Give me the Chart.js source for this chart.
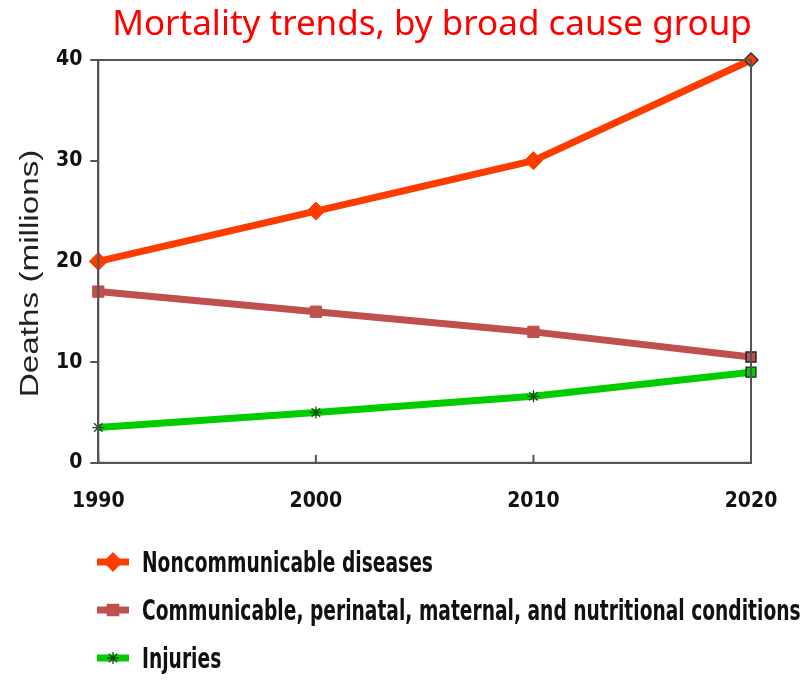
<!DOCTYPE html>
<html>
<head>
<meta charset="utf-8">
<script src="https://cdn.jsdelivr.net/npm/chart.js@4.4.0/dist/chart.umd.min.js"></script>
<style>
  html, body { margin: 0; padding: 0; background: #fff; }
  #wrap { position: relative; width: 810px; height: 681px; }
  #title { position: absolute; left: 0; width: 864px; top: 0; text-align: center; font-family: "Noto Sans", sans-serif; font-size: 35px; color: #ff0000; line-height: 44px; }
  #legend { position: absolute; left: 95px; top: 538px; font-family: "DejaVu Sans Condensed", "DejaVu Sans", sans-serif; font-weight: bold; font-size: 29px; color: #111; }
  .item { display: flex; align-items: center; height: 48px; white-space: nowrap; }
  .item canvas { margin-right: 11px; }
  .item span { display: inline-block; transform: scaleX(0.715); transform-origin: left center; }
</style>
</head>
<body>
<div id="wrap">
  <canvas id="myChart" width="810" height="681"></canvas>
  <div id="title">Mortality trends, by broad cause group</div>
  <div id="legend"></div>
</div>
<script>
// datos
const years = ["1990", "2000", "2010", "2020"];
const noncommunicable = [20, 25, 30, 40];
const communicable = [17, 15, 13, 10.5];
const injuries = [3.5, 5, 6.6, 9];
const yTicks = [0, 10, 20, 30, 40];
const yTitle = "Deaths (millions)";

const tickFont = { family: "'DejaVu Sans Condensed', 'DejaVu Sans', sans-serif", weight: "bold", size: 21 };

// marco alrededor del area + titulo del eje y estirado
const boxPlugin = {
    id: "box",
    afterDraw(chart) {
        const a = chart.chartArea;
        const c = chart.ctx;
        c.save();
        c.strokeStyle = "#555";
        c.lineWidth = 2;
        c.strokeRect(a.left, a.top, a.right - a.left, a.bottom - a.top);
        // marcas hacia adentro en el eje x
        const x = chart.scales.x;
        years.forEach((y, i) => {
            const px = x.getPixelForValue(i);
            c.beginPath();
            c.moveTo(px, a.bottom);
            c.lineTo(px, a.bottom - 8);
            c.stroke();
        });
        c.restore();

        c.save();
        c.translate(31, (a.top + a.bottom) / 2 + 12);
        c.rotate(-Math.PI / 2);
        c.scale(1.33, 1);
        c.font = "25px 'Liberation Sans', Arial, sans-serif";
        c.fillStyle = "#222";
        c.textAlign = "center";
        c.textBaseline = "middle";
        c.fillText(yTitle, 0, 0);
        c.restore();
    }
};

const last = (n, a, b) => Array.from({ length: n }, (_, i) => i === n - 1 ? b : a);

const ctx = document.getElementById("myChart").getContext("2d");
const chart = new Chart(ctx, {
    type: "line",
    data: {
        labels: years,
        datasets: [{
            label: "Noncommunicable diseases",
            data: noncommunicable,
            borderColor: "#ff3c00",
            backgroundColor: "#ff3c00",
            borderWidth: 7,
            pointStyle: "rectRot",
            pointRadius: last(4, 9, 7),
            pointBackgroundColor: "#ff3c00",
            pointBorderColor: last(4, "#ff3c00", "#333"),
            pointBorderWidth: last(4, 1, 1.5),
            clip: false
        }, {
            label: "Communicable, perinatal, maternal, and nutritional conditions",
            data: communicable,
            borderColor: "#c0504d",
            backgroundColor: "#c0504d",
            borderWidth: 7,
            pointStyle: "rect",
            pointRadius: last(4, 8, 7),
            pointBackgroundColor: "#c0504d",
            pointBorderColor: last(4, "#c0504d", "#222"),
            pointBorderWidth: last(4, 1, 1.5),
            clip: false
        }, {
            label: "Injuries",
            data: injuries,
            borderColor: "#00cc00",
            backgroundColor: "#00cc00",
            borderWidth: 7,
            pointStyle: last(4, "star", "rect"),
            pointRadius: last(4, 6, 7),
            pointBackgroundColor: "#00cc00",
            pointBorderColor: last(4, "#1a4a1a", "#222"),
            pointBorderWidth: 1.3,
            clip: false
        }]
    },
    options: {
        responsive: false,
        animation: false,
        layout: { padding: { left: 48, right: 59, top: 60, bottom: 141 } },
        plugins: {
            legend: { display: false },
            tooltip: { enabled: false },
            title: { display: false }
        },
        scales: {
            x: {
                offset: false,
                grid: { display: false, drawTicks: false },
                border: { display: true, color: "#555", width: 2 },
                ticks: { color: "#111", font: tickFont, padding: 26, maxRotation: 0 }
            },
            y: {
                min: 0,
                max: 40,
                afterBuildTicks: (s) => { s.ticks = yTicks.map(v => ({ value: v })); },
                grid: { drawOnChartArea: false, drawTicks: true, tickLength: 8, color: "#555", lineWidth: 2 },
                border: { display: true, color: "#555", width: 2 },
                ticks: { color: "#111", font: tickFont, padding: 8 }
            }
        }
    },
    plugins: [boxPlugin]
});

// leyenda en html, una fila por serie
const legendDiv = document.getElementById("legend");
chart.data.datasets.forEach((ds) => {
    const row = document.createElement("div");
    row.className = "item";
    const cv = document.createElement("canvas");
    cv.width = 36; cv.height = 24;
    const c = cv.getContext("2d");
    c.strokeStyle = ds.borderColor;
    c.lineWidth = 7;
    c.beginPath(); c.moveTo(2, 12); c.lineTo(34, 12); c.stroke();
    const pick = (v) => Array.isArray(v) ? v[0] : v;
    c.fillStyle = pick(ds.pointBackgroundColor);
    c.strokeStyle = pick(ds.pointBorderColor);
    c.lineWidth = 1.3;
    Chart.helpers.drawPoint(c, { pointStyle: pick(ds.pointStyle), radius: pick(ds.pointRadius), borderWidth: 1.3, rotation: 0 }, 18, 12);
    row.appendChild(cv);
    const sp = document.createElement("span");
    sp.textContent = ds.label;
    row.appendChild(sp);
    legendDiv.appendChild(row);
});
</script>
</body>
</html>
